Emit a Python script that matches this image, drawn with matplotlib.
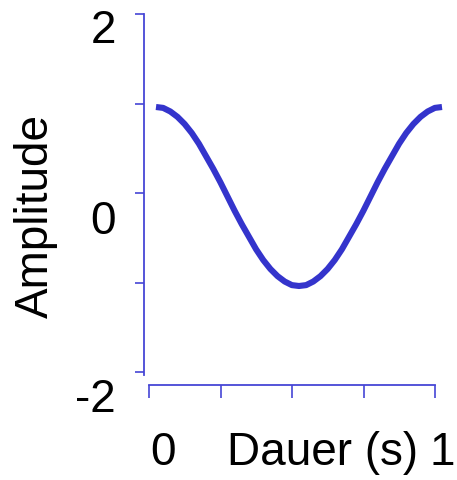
import numpy as np
import matplotlib
matplotlib.use("Agg")
import matplotlib.pyplot as plt
import matplotlib.transforms as mtransforms

plt.rcParams['font.family'] = ['Liberation Sans', 'DejaVu Sans']

amplitude = [1.00, 0.99, 0.95, 0.89, 0.81, 0.71, 0.59, 0.45, 0.31, 0.16,
             0.00, -0.16, -0.31, -0.45, -0.59, -0.71, -0.81, -0.89, -0.95, -0.99,
             -1.00, -0.99, -0.95, -0.89, -0.81, -0.71, -0.59, -0.45, -0.31, -0.16,
             0.00, 0.16, 0.31, 0.45, 0.59, 0.71, 0.81, 0.89, 0.95, 0.99, 1.00]
duration = np.linspace(0, 1, len(amplitude))

y_ticks = [-2, -1, 0, 1, 2]
y_labels = ['2', '0', '-2']
y_label_vals = [2, 0, -2]
x_ticks = [0, 0.25, 0.5, 0.75, 1]
x_labels = ['0', '1']
x_label_vals = [0, 1]

line_color = '#3434cc'
axis_color = '#4646d6'
fs = 33

W, H = 457, 480
fig = plt.figure(figsize=(W / 100, H / 100), dpi=100)
ax = fig.add_axes([149 / W, 108 / H, 286 / W, 358 / H])
ax.set_xlim(0, 1)
ax.set_ylim(-2, 2)

# curve sits a few pixels right/below the drawn axis frame
shift = mtransforms.ScaledTranslation(7 / 100, -3.5 / 100, fig.dpi_scale_trans)
ax.plot(duration, amplitude, color=line_color, lw=4.4, solid_capstyle='butt',
        solid_joinstyle='round', transform=ax.transData + shift, clip_on=False)

for s in ['top', 'right']:
    ax.spines[s].set_visible(False)
ax.spines['left'].set_position(('outward', 3.6))
ax.spines['bottom'].set_position(('outward', 9.4))
ax.spines['left'].set_bounds(-2.03, 2)
for s in ['left', 'bottom']:
    ax.spines[s].set_color(axis_color)
    ax.spines[s].set_linewidth(1.3)

ax.set_yticks(y_ticks)
ax.set_xticks(x_ticks)
ax.set_yticklabels([])
ax.set_xticklabels([])
ax.tick_params(axis='y', direction='out', length=6.5, width=1.2, color=axis_color)
ax.tick_params(axis='x', direction='out', length=9.4, width=1.2, color=axis_color)

# tick labels (placed below their ticks as in the original)
ytrans = mtransforms.blended_transform_factory(ax.transAxes, ax.transData)
y_drop = [29, 41, 40]
for lab, v, d in zip(y_labels, y_label_vals, y_drop):
    ax.annotate(lab, xy=(0, v), xycoords=ytrans, xytext=(-33, -d),
                textcoords='offset pixels', ha='right', va='baseline', fontsize=fs)

xtrans = mtransforms.blended_transform_factory(ax.transData, ax.transAxes)
x_shift = [14.5, 7]
for lab, v, d in zip(x_labels, x_label_vals, x_shift):
    ax.annotate(lab, xy=(v, 0), xycoords=xtrans, xytext=(d, -93),
                textcoords='offset pixels', ha='center', va='baseline', fontsize=fs,
                annotation_clip=False)

fig.text(323 / W, (H - 465) / H, 'Dauer (s)', ha='center', va='baseline', fontsize=fs)
fig.text(48 / W, (H - 216) / H, 'Amplitude', rotation=90, rotation_mode='anchor',
         ha='center', va='baseline', fontsize=fs)

fig.savefig('out.png', dpi=100)
